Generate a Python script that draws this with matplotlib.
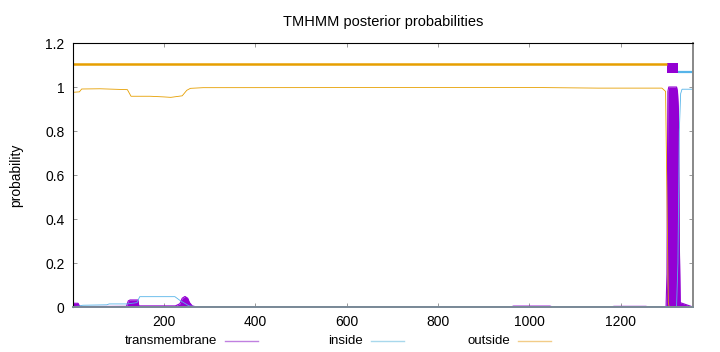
import numpy as np
import matplotlib
matplotlib.use("Agg")
import matplotlib.pyplot as plt
from matplotlib.lines import Line2D
from matplotlib.ticker import FuncFormatter

plt.rcParams['font.family'] = ['Liberation Sans', 'DejaVu Sans']

# sequence length
seq_len = 1358

# posterior curves as (position, probability) breakpoints
outside_pos = [1, 15, 20, 60, 120, 128, 170, 200, 215, 240, 250, 258, 286,
               1000, 1150, 1290, 1298, 1301, 1304, 1306, 1358]
outside_val = [0.976, 0.978, 0.991, 0.992, 0.988, 0.958, 0.958, 0.955, 0.953,
               0.960, 0.985, 0.994, 0.997, 0.998, 0.995, 0.995, 0.98, 0.5,
               0.02, 0.0, 0.0]

inside_pos = [1, 15, 22, 75, 80, 120, 141, 147, 224, 235, 255, 270,
              1300, 1322, 1325, 1328, 1331, 1334, 1358]
inside_val = [0.002, 0.004, 0.008, 0.010, 0.014, 0.014, 0.02, 0.047, 0.047,
              0.030, 0.005, 0.002, 0.002, 0.0, 0.2, 0.8, 0.97, 0.99, 0.99]

tm_pos = [1, 12, 15, 20, 118, 122, 126, 143, 145, 225, 235, 240, 246, 252,
          256, 262, 270, 960, 965, 1045, 1050, 1180, 1185, 1255, 1260,
          1299, 1301, 1302, 1303, 1305, 1322, 1324, 1326, 1328, 1330, 1358]
tm_val = [0.017, 0.017, 0.005, 0.002, 0.003, 0.028, 0.032, 0.032, 0.005,
          0.005, 0.015, 0.040, 0.048, 0.040, 0.020, 0.005, 0.001, 0.001,
          0.004, 0.004, 0.001, 0.001, 0.003, 0.003, 0.001,
          0.0, 0.15, 0.6, 0.98, 1.0, 1.0, 0.98, 0.9, 0.3, 0.02, 0.0]

# predicted topology drawn above the curves
outside_seg = [1, 1302]
tm_seg = [1302, 1326]
inside_seg = [1326, 1358]

purple = '#9400D3'
blue = '#56B4E9'
orange = '#E69F00'

fig = plt.figure(figsize=(7.2, 3.52), dpi=100)
ax = fig.add_axes([0.1014, 0.1278, 0.8611, 0.75])

ax.fill_between(tm_pos, 0, tm_val, color=purple, lw=0)
ax.plot(tm_pos, tm_val, color=purple, lw=0.8)
ax.plot(inside_pos, inside_val, color=blue, lw=0.6)
ax.plot(outside_pos, outside_val, color=orange, lw=0.6)

ax.plot(outside_seg, [1.105, 1.105], color=orange, lw=1.8, solid_capstyle='butt')
ax.fill_between(tm_seg, 1.062, 1.109, color=purple, lw=0)
ax.plot(inside_seg, [1.066, 1.066], color=blue, lw=1.6, solid_capstyle='butt')

ax.set_xlim(1, seq_len)
ax.set_ylim(0, 1.2)
ax.set_xticks([200, 400, 600, 800, 1000, 1200])
ax.set_yticks([0, 0.2, 0.4, 0.6, 0.8, 1.0, 1.2])
ax.yaxis.set_major_formatter(FuncFormatter(lambda v, p: '%g' % round(v, 1)))
ax.tick_params(direction='in', length=3, width=0.6, top=True, right=True,
               labelsize=10, pad=6, colors='#888888', labelcolor='black')
for s in ax.spines.values():
    s.set_linewidth(0.8)
ax.spines['right'].set_color('#888888')
ax.spines['right'].set_linewidth(1.4)
ax.spines['bottom'].set_color('#7a8a96')
ax.spines['bottom'].set_linewidth(1.4)

ax.set_ylabel('probability', fontsize=10, labelpad=16)
ax.set_title('TMHMM posterior probabilities', fontsize=10.5, pad=12)

# legend along the bottom
names = ['transmembrane', 'inside', 'outside']
cols = ['#c080e0', '#a8d8ec', '#f2cc88']
text_right = [0.3014, 0.5042, 0.7083]
ly = 0.031
for n, c, xr in zip(names, cols, text_right):
    fig.text(xr, ly, n, ha='right', va='center', fontsize=9.5)
    fig.add_artist(Line2D([xr + 0.011, xr + 0.057], [ly, ly], color=c, lw=1.0,
                          transform=fig.transFigure))

fig.savefig('out.png', dpi=100)
